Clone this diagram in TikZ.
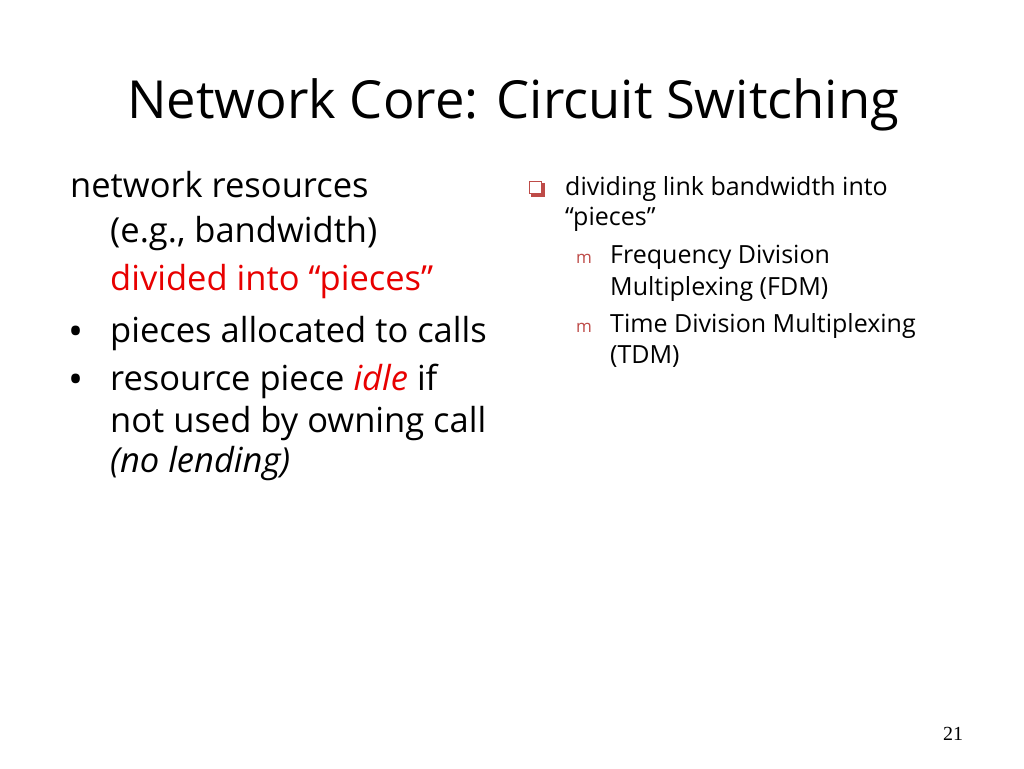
\documentclass[tikz,border=0pt]{standalone}
\usepackage{fontspec}
\setmainfont{Open Sans}
\newfontfamily\pagenumfont{Liberation Serif}
\usepackage{tikz}
\definecolor{slidered}{RGB}{232,0,0}
\definecolor{markred}{RGB}{190,75,72}
\tikzset{
  headline/.style={anchor=base west, inner sep=0pt, font=\fontsize{52.5}{60}\selectfont},
  bigline/.style={anchor=base west, inner sep=0pt, font=\fontsize{34.5}{40}\selectfont},
  smallline/.style={anchor=base west, inner sep=0pt, font=\fontsize{25}{28}\selectfont},
  dotmark/.style={anchor=base, inner sep=0pt, font=\fontsize{40}{40}\selectfont},
  mmark/.style={anchor=base west, inner sep=0pt, text=markred, font=\fontsize{17}{18}\selectfont}
}
\begin{document}
\begin{tikzpicture}[x=1pt,y=-1pt]
			%%%%% START %%%%%
			\useasboundingbox[fill=white] (0, 0) rectangle (1024, 768);
			
			\node[headline] (title) at (127, 118) {Network Core: Circuit Switching};
			
			% left column
			\node[bigline] (res1) at (70, 197) {network resources};
			\node[bigline] (res2) at (110, 242) {(e.g., bandwidth)};
			\node[bigline, text=slidered] (res3) at (110, 290) {divided into “pieces”};
			
			\node[dotmark] (dot1) at (76, 345) {•};
			\node[bigline] (alloc) at (110, 342) {pieces allocated to calls};
			
			\node[dotmark] (dot2) at (76, 393) {•};
			\node[bigline] (idle1) at (110, 390) {resource piece \textcolor{slidered}{\itshape idle} if};
			\node[bigline] (idle2) at (110, 432) {not used by owning call};
			\node[bigline] (idle3) at (110, 472) {\itshape (no lending)};
			
			% right column
			\draw[markred, fill=markred] (531, 183) rectangle (544, 196);
			\draw[markred, line width=1pt, fill=white] (529, 181) rectangle (541, 193);
			\node[smallline] (div1) at (565, 195) {dividing link bandwidth into};
			\node[smallline] (div2) at (565, 225) {“pieces”};
			
			\node[mmark] (m1) at (576, 263) {m};
			\node[smallline] (fdm1) at (610, 263) {Frequency Division};
			\node[smallline] (fdm2) at (610, 295) {Multiplexing (FDM)};
			
			\node[mmark] (m2) at (576, 332) {m};
			\node[smallline] (tdm1) at (610, 332) {Time Division Multiplexing};
			\node[smallline] (tdm2) at (610, 363) {(TDM)};
			
			\node[anchor=base west, inner sep=0pt, font=\pagenumfont\fontsize{20}{22}\selectfont] (pagenum) at (943, 740) {21};
			
			%%%%% END %%%%%
\end{tikzpicture}
\end{document}
